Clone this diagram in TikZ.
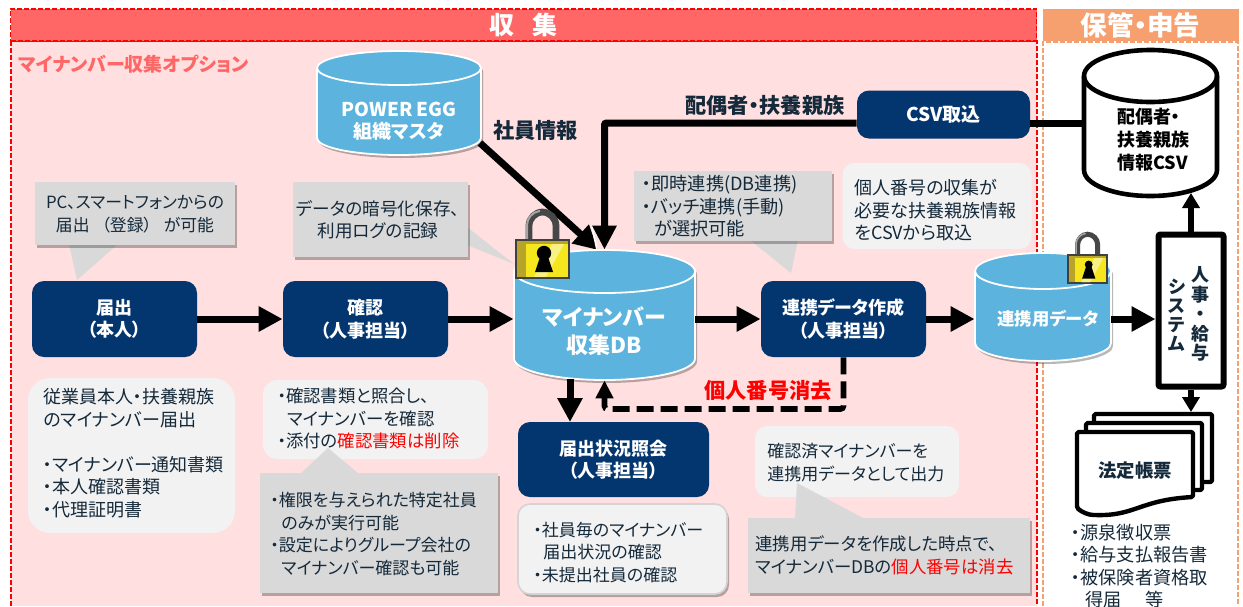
\documentclass[tikz,border=0pt]{standalone}
\usepackage{fontspec}
\setmainfont{Noto Sans CJK JP}[RawFeature=+palt]
\usetikzlibrary{arrows.meta, shadows}

\definecolor{panelpink}{HTML}{FFDFDF}
\definecolor{headred}{HTML}{FF6666}
\definecolor{headorange}{HTML}{F5A06E}
\definecolor{navybox}{HTML}{03356F}
\definecolor{dbblue}{HTML}{5BB3DE}
\definecolor{notegrey}{HTML}{D9D9D9}
\definecolor{notelight}{HTML}{F2F2F2}
\definecolor{inkdark}{HTML}{14293A}
\definecolor{lockyellow}{HTML}{F5E61E}
\definecolor{lockside}{HTML}{B8A428}

\newcommand{\redtxt}[1]{\textcolor{red}{#1}}
\newcommand{\txtsize}[1]{\fontsize{#1}{11.25}\selectfont}

% [extra]{cx}{top}{width}{height}{ry}{style}, all in pixels of the picture
\newcommand{\drumbody}[7][]{
  \draw[#7,#1] (#2-#4/2,#3+#6) arc[start angle=180,end angle=0,x radius=#4*.25pt,y radius=#6*.5pt]
    -- (#2+#4/2,#3+#5-#6) arc[start angle=0,end angle=-180,x radius=#4*.25pt,y radius=#6*.5pt] -- cycle;
  \draw[#7,fill=none] (#2-#4/2,#3+#6) arc[start angle=180,end angle=360,x radius=#4*.25pt,y radius=#6*.5pt];
}

% {x}{y}{scale}
\newcommand{\padlock}[3]{
  \begin{scope}[shift={(#1,#2)},scale=#3]
    \draw[line width=#3*3.4pt,color=black!72,rounded corners=#3*7pt] (13,34) -- (13,3) -- (40,3) -- (40,34);
    \draw[line width=#3*1pt,color=black!35,rounded corners=#3*6pt] (11,32) -- (11,4) -- (24,2);
    \draw[draw=black!75,fill=lockside,line width=#3*1pt] (0,31) rectangle (53,69);
    \fill[lockyellow] (10,35) rectangle (52,68);
    \fill[white,opacity=.45] (36,35) -- (48,35) -- (30,68) -- (18,68) -- cycle;
    \fill[black] (28,44) circle[radius=#3*3.6pt];
    \fill[black] (25,45) -- (19,63) -- (37,63) -- (31,45) -- cycle;
  \end{scope}
}

\tikzset{
  softshadow/.style={drop shadow={shadow xshift=1pt,shadow yshift=-1.5pt,fill=black,opacity=.28}},
  flowbox/.style={fill=navybox,rounded corners=6pt,text=white,align=center,inner sep=0pt,font=\txtsize{9}\bfseries},
  greynote/.style={fill=notegrey,inner sep=0pt,softshadow},
  lightnote/.style={fill=notelight,inner sep=0pt},
  notetext/.style={text=inkdark,inner sep=0pt,align=left,anchor=west,font=\txtsize{9}},
  narrowtext/.style={notetext,font=\txtsize{8.5}},
  midtext/.style={notetext,align=center,anchor=center},
  boldlabel/.style={text=inkdark,inner sep=0pt,font=\txtsize{10.6}\bfseries},
  drumblue/.style={fill=dbblue,draw=white,line width=.9pt},
  drumblack/.style={fill=white,draw=black,line width=2.3pt},
  drumbox/.style={inner sep=0pt},
  flow/.style={line width=3.5pt,-{Triangle[length=12pt,width=12pt]}},
  thinflow/.style={line width=3pt,-{Triangle[length=7.5pt,width=8.5pt]}},
  docsheet/.style={fill=white,draw=black,line width=2.2pt,line join=round,rounded corners=.8pt},
}

\begin{document}
\begin{tikzpicture}[x=.5pt,y=-.5pt]
\useasboundingbox (0,0) rectangle (1243,606);

% Paineis
\fill[panelpink] (11,41) rectangle (1037,606);
\draw[red,line width=.8pt,dash pattern=on 2.5pt off 1pt] (11,606) -- (11,41) -- (1037,41) -- (1037,606);
\draw[headorange,line width=.8pt,dash pattern=on 2.5pt off 1pt] (1043,606) -- (1043,42) -- (1238,42) -- (1238,606);

% Cabecalhos
\node[fill=headred,draw=red,line width=.8pt,dash pattern=on 2.5pt off 1pt,minimum width=513pt,minimum height=16pt,inner sep=0pt,text=white,font=\fontsize{12.5}{14}\selectfont\bfseries] (collectHead) at (523.5,25) {収\hspace{9pt}集\hspace{3pt}};
\node[fill=headorange,minimum width=98pt,minimum height=16pt,inner sep=0pt,text=white,font=\fontsize{13.3}{14}\selectfont\bfseries] (keepHead) at (1140.5,25) {保管・申告};
\node[text=headred,inner sep=0pt,anchor=west,font=\txtsize{9.5}\bfseries] (optionTitle) at (18,64) {マイナンバー収集オプション};

% Baloes cinza atras das caixas
\fill[notegrey] (69,244) -- (77,280) -- (118,244) -- cycle;
\node[greynote,minimum width=100pt,minimum height=31.5pt] (noteDevice) at (135,213.5) {};
\node[midtext,font=\txtsize{8.4}] (noteDeviceT) at (135,214) {PC、スマートフォンからの\\届出\hspace{6pt}（登録）\hspace{6pt}が可能};

\fill[notegrey] (467,227) -- (514,264) -- (467,245) -- cycle;
\node[greynote,minimum width=87.5pt,minimum height=37.5pt] (noteCrypt) at (380.5,219.5) {};
\node[midtext,font=\txtsize{8.8}] (noteCryptT) at (378,219.5) {データの暗号化保存、\\利用ログの記録};

\fill[notegrey] (750,240) -- (791,273) -- (798,240) -- cycle;
\node[greynote,minimum width=99pt,minimum height=35pt] (noteLink) at (733,206) {};
\node[notetext,font=\txtsize{9.1}] (noteLinkT) at (642,206.5) {・即時連携(DB連携)\\・バッチ連携(手動)\\\hspace{6pt}が選択可能};

\node[lightnote,rounded corners=6pt,minimum width=94.5pt,minimum height=43pt] (noteSpouse) at (937,206) {};
\node[notetext] (noteSpouseT) at (854,210.5) {個人番号の収集が\\必要な扶養親族情報\\をCSVから取込};

% Conectores de entrada do banco
\node[flowbox,font=\txtsize{9.5}\bfseries,minimum width=86.5pt,minimum height=24pt] (csvImport) at (943.5,114.5) {CSV取込};
\node[drumbox,minimum width=66.5pt,minimum height=73pt] (csvDb) at (1150.5,123) {};
\coordinate (peggOut) at (480,143);
\coordinate (dbInLeft) at (598,250);
\node[drumbox,minimum width=90.5pt,minimum height=65pt] (dbMain) at (604.5,315) {};
\draw[flow] (peggOut) -- (dbInLeft);
\draw[white,line width=.8pt] (592,227) -- (597,250);
\draw[line width=3.5pt,-{Triangle[length=12pt,width=11.5pt]},rounded corners=1pt] (csvImport.west |- csvDb) -| (dbMain.north);

% Bancos
\drumbody[softshadow]{399}{51}{164}{104}{17}{drumblue}
\node[drumbox,minimum width=82pt,minimum height=52pt] (peggDb) at (399,103) {};
\node[text=white,align=center,inner sep=0pt,font=\fontsize{9.5}{11}\selectfont\bfseries] (peggLabel) at (399,121) {POWER EGG\\組織マスタ};
\node[boldlabel] (staffLabel) at (535.5,130) {社員情報};
\node[boldlabel] (spouseLabel) at (765,105) {配偶者・扶養親族};

\drumbody[softshadow]{604.5}{250}{181}{130}{21.5}{drumblue}
\node[text=white,align=center,inner sep=0pt,font=\fontsize{11}{14}\selectfont\bfseries] (dbMainLabel) at (604.5,331) {マイナンバー\\収集DB};

\drumbody[softshadow]{1043}{253}{136}{108}{18}{drumblue}
\node[drumbox,minimum width=68pt,minimum height=54pt] (dbLink) at (1043,307) {};
\node[text=white,inner sep=0pt,font=\txtsize{8.7}\bfseries] (dbLinkLabel) at (1048,319) {連携用データ};

\drumbody{1150.5}{50}{133}{146}{26}{drumblack}
\node[text=black,align=left,inner sep=0pt,anchor=west,font=\fontsize{9}{11.5}\selectfont\bfseries] (csvDbLabel) at (1117,140) {配偶者・\\扶養親族\\情報CSV};

% Caixas do fluxo
\node[flowbox,minimum width=82.5pt,minimum height=38pt] (reqBox) at (114.5,319) {届出\\（本人）};
\node[flowbox,minimum width=82.5pt,minimum height=38pt] (checkBox) at (365.5,319) {確認\\（人事担当）};
\node[flowbox,minimum width=82.5pt,minimum height=38pt] (dataMake) at (843.5,319) {連携データ作成\\（人事担当）};
\node[flowbox,minimum width=95.5pt,minimum height=37.5pt] (statusBox) at (613.5,459.5) {届出状況照会\\（人事担当）};

% Sistema de pessoal
\node[draw=black,fill=white,line width=3pt,rounded corners=1pt,minimum width=32.5pt,minimum height=76pt,inner sep=0pt] (hrSys) at (1191,310.5) {};
\node[text=inkdark,align=center,inner sep=0pt,font=\fontsize{9}{9.75}\selectfont\bfseries] (hrNameA) at (1200,314) {人\\事\\・\\給\\与};
\node[text=inkdark,align=center,inner sep=0pt,font=\fontsize{9}{9.5}\selectfont\bfseries] (hrNameB) at (1177,315) {シ\\ス\\テ\\ム};

% Fluxo principal
\coordinate (hrIn) at (hrSys.west |- dataMake);
\draw[flow] (reqBox) -- (checkBox);
\draw[flow] (checkBox.east) -- (checkBox.east -| dbMain.west);
\draw[flow] (dataMake.west -| dbMain.east) -- (dataMake.west);
\draw[flow] (dataMake.east) -- (dataMake.east -| dbLink.west);
\draw[flow] (hrIn -| dbLink.east) -- (hrIn);

\draw[line width=3.5pt] (csvImport.east |- csvDb) -- (csvDb.west);
\coordinate (csvIn) at (1191,193);
\draw[thinflow] (hrSys.north) -- (csvIn);

% Saida para o banco e consulta
\coordinate (dbOut) at (570,379);
\coordinate (statusIn) at (570,422);
\draw[flow] (dbOut) -- (statusIn);
\coordinate (dashTurn) at (604.5,409);
\draw[line width=2.8pt,dash pattern=on 8.5pt off 3.5pt,rounded corners=1.5pt,-{Triangle[length=9pt,width=8.5pt]}] (dataMake.south) |- (dashTurn) -- (dbMain.south);
\node[text=red,inner sep=0pt,font=\txtsize{10.6}\bfseries] (eraseLabel) at (768,391) {個人番号消去};

% Cadeados
\padlock{516}{209}{1}
\padlock{1068}{232}{.74}

% Baloes inferiores
\node[lightnote,rounded corners=11pt,minimum width=103.5pt,minimum height=77.5pt] (noteSelf) at (131.5,455.5) {};
\node[notetext] (noteSelfT) at (43,453) {従業員本人・扶養親族\\のマイナンバー届出\\[11.25pt]・マイナンバー通知書類\\・本人確認書類\\・代理証明書};

\node[lightnote,rounded corners=7pt,minimum width=112.5pt,minimum height=39.5pt] (noteCheck) at (375.5,419.5) {};
\node[notetext,font=\txtsize{8.7}] (noteCheckT) at (277,418.5) {・確認書類と照合し、\\\hspace{5pt}マイナンバーを確認\\・添付の\redtxt{確認書類は削除}};

\fill[notegrey] (300,474) -- (328,448) -- (359,474) -- cycle;
\node[greynote,minimum width=119pt,minimum height=60pt] (noteRight) at (379,533) {};
\node[narrowtext] (noteRightT) at (270,534) {・権限を与えられた特定社員\\\hspace{5.5pt}のみが実行可能\\・設定によりグループ会社の\\\hspace{5.5pt}マイナンバー確認も可能};

\node[fill=notelight,draw=black!17,line width=.8pt,rounded corners=6pt,inner sep=0pt,minimum width=104.5pt,minimum height=45pt,softshadow] (noteStatus) at (622.5,549) {};
\node[narrowtext] (noteStatusT) at (533,552.5) {・社員毎のマイナンバー\\\hspace{5pt}届出状況の確認\\・未提出社員の確認};

\node[lightnote,rounded corners=6pt,minimum width=102pt,minimum height=35.5pt] (noteOutput) at (857,461.5) {};
\node[narrowtext] (noteOutputT) at (767,462.5) {確認済マイナンバーを\\連携用データとして出力};

\fill[notegrey] (795,519) -- (797,483) -- (865,519) -- cycle;
\node[greynote,minimum width=141pt,minimum height=37.5pt] (noteErase) at (889,555.5) {};
\node[notetext,font=\txtsize{8.7}] (noteEraseT) at (755,555.5) {連携用データを作成した時点で、\\マイナンバーDBの\redtxt{個人番号は消去}};

% Pilha de formularios
\draw[docsheet] (1094,482) -- (1094,414) -- (1212,414) -- (1212,482) -- cycle;
\draw[docsheet] (1086,490) -- (1086,423) -- (1202,423) -- (1202,490) -- cycle;
\draw[docsheet] (1077,508) -- (1077,432) -- (1193,432) -- (1193,497)
  .. controls (1140,500) and (1135,516) .. (1095,515)
  .. controls (1088,515) and (1082,512) .. (1077,508) -- cycle;
\node[text=inkdark,inner sep=0pt,font=\txtsize{9.2}\bfseries] (legalDocs) at (1135,471) {法定帳票};
\coordinate (docsIn) at (1191,412);
\draw[thinflow] (hrSys.south) -- (docsIn);
\node[notetext,font=\txtsize{9.1}] (legalList) at (1071,566) {・源泉徴収票\\・給与支払報告書\\・被保険者資格取\\\hspace{7pt}得届\hspace{12pt}等};

\end{tikzpicture}
\end{document}
